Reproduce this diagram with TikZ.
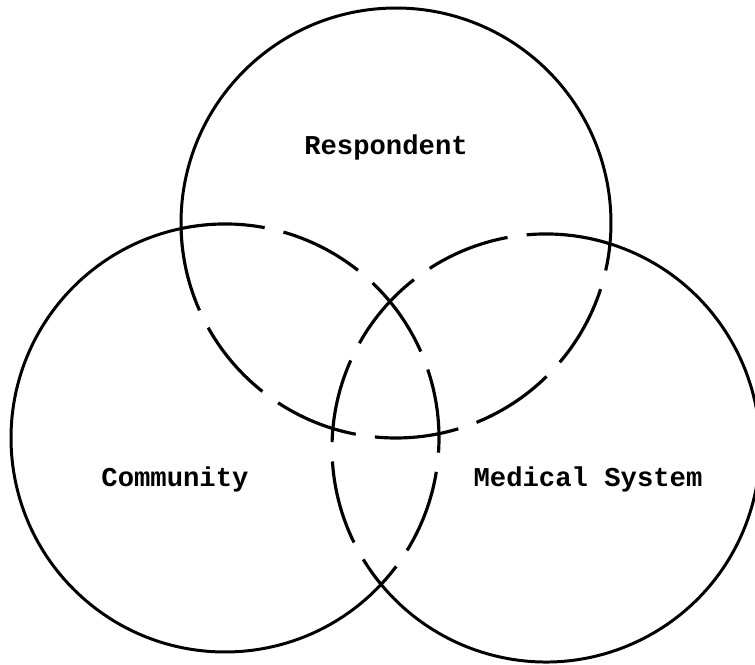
\documentclass[tikz,border=0pt]{standalone}
\usepackage{fontspec}
\setmonofont{Liberation Mono}

\tikzstyle{set} = [line width=1.7pt]
\tikzstyle{hidden} = [line width=1.8pt, dash pattern=on 48pt off 11pt]
\tikzstyle{tag} = [anchor=base, inner sep=0pt, font=\ttfamily\bfseries\fontsize{15.5}{18}\selectfont]

\begin{document}
\begin{tikzpicture}[x=0.02cm, y=-0.02cm]
  \useasboundingbox (0,0) rectangle (755,665);
  \coordinate (r) at (396,223);
  \coordinate (c) at (225,438);
  \coordinate (m) at (546,448);

  % outer arcs
  \draw [set] (r) ++(178.5:215) arc (178.5:365.55:215);
  \draw [set] (c) ++(43.1:214) arc (43.1:258.1:214);
  \draw [set] (m) ++(-72.6:214) arc (-72.6:140.4:214);

  % arcs inside the other sets
  \draw [hidden] (r) ++(178.5:215) arc (178.5:5.55:215);
  \draw [hidden] (c) ++(258.1:214) arc (258.1:403.1:214);
  \draw [hidden] (m) ++(287.4:214) arc (287.4:140.4:214);

  \node (respondent) at (386,155) [tag] {Respondent};
  \node (community) at (175,487) [tag] {Community};
  \node (medical) at (588,487) [tag] {Medical System};
\end{tikzpicture}
\end{document}
